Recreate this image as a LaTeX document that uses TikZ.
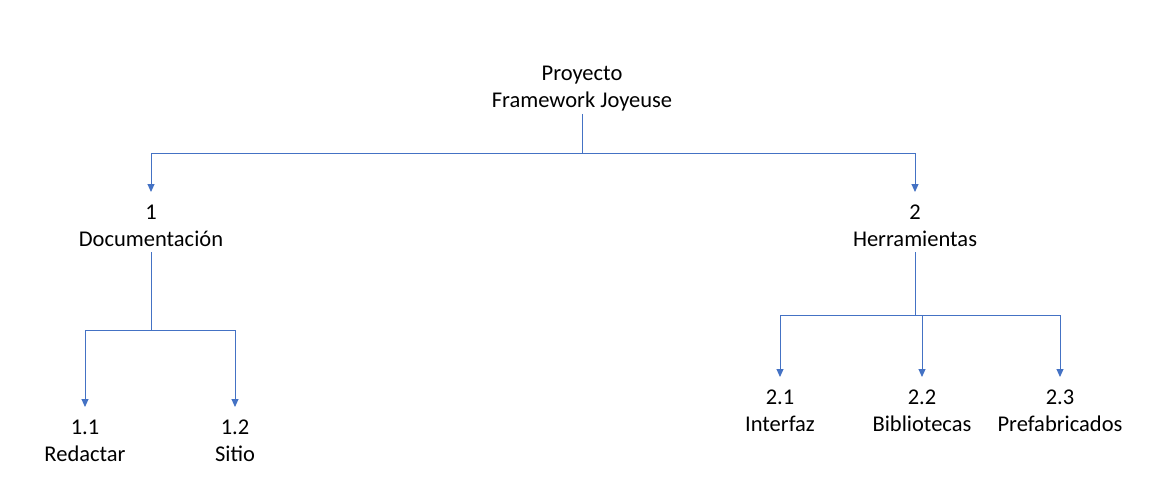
\documentclass[tikz,border=0pt]{standalone}
\usepackage{fontspec}
\setmainfont{Carlito}
\usetikzlibrary{arrows.meta}
\definecolor{linkblue}{HTML}{4472C4}
\tikzset{
  lbl/.style={align=center, inner sep=0pt, outer sep=0pt, font=\fontsize{22.5}{27}\selectfont, text=black},
  rootbox/.style={lbl, minimum height=51pt},
  midbox/.style={lbl, minimum height=67pt},
  leafbox/.style={lbl, minimum height=68pt},
  conn/.style={draw=linkblue, line width=1pt},
  arr/.style={conn, -{Triangle[width=7pt,length=8pt]}},
}
\begin{document}
\begin{tikzpicture}[x=1pt,y=-1pt]
\useasboundingbox (0,0) rectangle (1171,495);
\node[rootbox] (root) at (582,88.5) {Proyecto\\Framework Joyeuse};
\node[midbox] (n1) at (151,225.5) {1\\Documentación};
\node[midbox] (n2) at (915,225.5) {2\\Herramientas};
\node[leafbox] (n11) at (85,441) {1.1\\Redactar};
\node[leafbox] (n12) at (235,441) {1.2\\Sitio};
\node[leafbox] (n21) at (780,411) {2.1\\Interfaz};
\node[leafbox] (n22) at (922,411) {2.2\\Bibliotecas};
\node[leafbox] (n23) at (1060,411) {2.3\\Prefabricados};
\coordinate (j0) at (582,153);
\coordinate (j1) at (151,330);
\coordinate (j2) at (915,315);
\draw[conn] (root.south) -- (j0);
\draw[arr] (j0) -| (n1.north);
\draw[arr] (j0) -| (n2.north);
\draw[conn, shorten <=-7pt] (n1.south) -- (j1);
\draw[arr] (j1) -| (n11.north);
\draw[arr] (j1) -| (n12.north);
\draw[conn, shorten <=-7pt] (n2.south) -- (j2);
\draw[arr] (j2) -| (n21.north);
\draw[arr] (j2) -| (n22.north);
\draw[arr] (j2) -| (n23.north);
\end{tikzpicture}
\end{document}
